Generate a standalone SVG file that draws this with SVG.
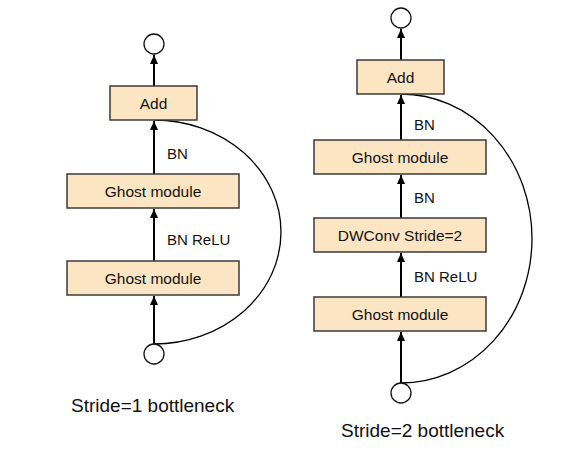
<svg xmlns="http://www.w3.org/2000/svg" width="561" height="458" viewBox="0 0 561 458">
<style>
.box{fill:#fce5c2;stroke:#3a3a3a;stroke-width:1.5}
.bt{font-family:"Liberation Sans",Arial,sans-serif;font-size:15.5px;fill:#111;text-anchor:middle}
.lb{font-family:"Liberation Sans",Arial,sans-serif;font-size:15px;fill:#111}
.cap{font-family:"Liberation Sans",Arial,sans-serif;font-size:19px;fill:#111}
.circ{fill:#fff;stroke:#111;stroke-width:1.3}
.arr{stroke:#000;stroke-width:2;fill:none;marker-end:url(#ah)}
.skip{stroke:#000;stroke-width:1.3;fill:none}
</style>
<defs>
<marker id="ah" markerUnits="userSpaceOnUse" markerWidth="10" markerHeight="10" viewBox="0 0 10 10" refX="9" refY="5" orient="auto">
<path d="M0,1 L9,5 L0,9 z" fill="#000"/>
</marker>
</defs>
<rect width="561" height="458" fill="#fff"/>
<g id="connectors">
<line class="arr" x1="154" y1="344" x2="154" y2="296"/>
<line class="arr" x1="154" y1="261" x2="154" y2="209"/>
<line class="arr" x1="154" y1="174" x2="154" y2="121"/>
<line class="arr" x1="154" y1="86" x2="154" y2="55"/>
<path class="skip" d="M154,120 A127,112 0 0 1 154,344"/>
<line class="arr" x1="401" y1="383" x2="401" y2="332"/>
<line class="arr" x1="401" y1="297" x2="401" y2="253"/>
<line class="arr" x1="401" y1="218" x2="401" y2="175"/>
<line class="arr" x1="401" y1="140" x2="401" y2="95"/>
<line class="arr" x1="401" y1="60" x2="401" y2="29"/>
<path class="skip" d="M401,94 A131,144.5 0 0 1 401,383"/>
</g>
<g id="l-out"><circle class="circ" cx="154" cy="44" r="10"/></g>
<g id="l-add"><rect class="box" x="110" y="86" width="87" height="34"/><text class="bt" x="153.5" y="108.5">Add</text></g>
<g id="l-ghost1"><rect class="box" x="67" y="174" width="172" height="34"/><text class="bt" x="153" y="196.5">Ghost module</text></g>
<g id="l-ghost2"><rect class="box" x="67" y="261" width="172" height="34"/><text class="bt" x="153" y="283.5">Ghost module</text></g>
<g id="l-in"><circle class="circ" cx="154" cy="354" r="10"/></g>
<g id="l-labels">
<text class="lb" x="167" y="158.5">BN</text>
<text class="lb" x="167" y="244.5">BN ReLU</text>
<text class="cap" x="71" y="412">Stride=1 bottleneck</text>
</g>
<g id="r-out"><circle class="circ" cx="401" cy="18" r="10"/></g>
<g id="r-add"><rect class="box" x="357" y="60" width="87" height="34"/><text class="bt" x="400.5" y="82.5">Add</text></g>
<g id="r-ghost1"><rect class="box" x="314" y="140" width="172" height="34"/><text class="bt" x="400" y="162.5">Ghost module</text></g>
<g id="r-dwconv"><rect class="box" x="314" y="218" width="172" height="34"/><text class="bt" x="400" y="240.5">DWConv Stride=2</text></g>
<g id="r-ghost2"><rect class="box" x="314" y="297" width="172" height="34"/><text class="bt" x="400" y="319.5">Ghost module</text></g>
<g id="r-in"><circle class="circ" cx="401" cy="393" r="10"/></g>
<g id="r-labels">
<text class="lb" x="414" y="129.5">BN</text>
<text class="lb" x="414" y="202.5">BN</text>
<text class="lb" x="414" y="281.5">BN ReLU</text>
<text class="cap" x="341" y="437">Stride=2 bottleneck</text>
</g>
</svg>
